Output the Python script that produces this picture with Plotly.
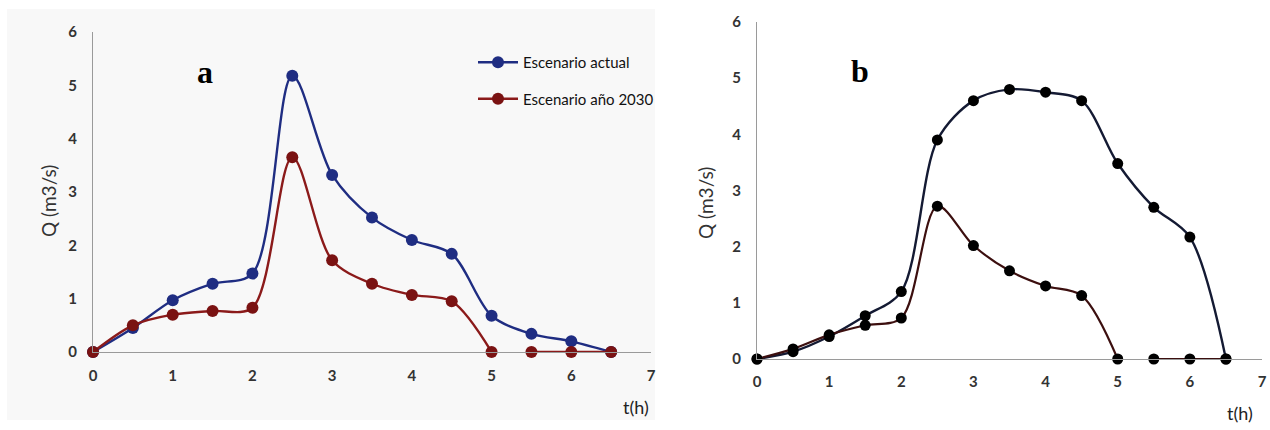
import plotly.graph_objects as go

# ---------------- data ----------------
t_hours = [0, 0.5, 1, 1.5, 2, 2.5, 3, 3.5, 4, 4.5, 5, 5.5, 6, 6.5]

# panel a
a_actual = [0, 0.45, 0.97, 1.28, 1.47, 5.18, 3.32, 2.52, 2.10, 1.84, 0.68, 0.34, 0.20, 0]
a_2030 = [0, 0.50, 0.70, 0.77, 0.83, 3.65, 1.72, 1.28, 1.07, 0.95, 0, 0, 0, 0]

# panel b
b_actual = [0, 0.13, 0.40, 0.77, 1.20, 3.90, 4.60, 4.80, 4.75, 4.60, 3.48, 2.70, 2.17, 0]
b_2030 = [0, 0.18, 0.43, 0.60, 0.73, 2.72, 2.02, 1.57, 1.30, 1.13, 0, 0, 0, 0]

series_names = ["Escenario actual", "Escenario año 2030"]
x_ticks = [0, 1, 2, 3, 4, 5, 6, 7]
y_ticks = [0, 1, 2, 3, 4, 5, 6]


def with_gap(xs, ys, after_x):
    """insert a break in the line right after x == after_x (line interrupted in source)"""
    gx, gy = [], []
    for x, y in zip(xs, ys):
        gx.append(x)
        gy.append(y)
        if x == after_x:
            gx.append(x + 0.25)
            gy.append(None)
    return gx, gy


W, H = 1270, 430
FAM = "Lato, 'Open Sans', sans-serif"
TICKFONT = dict(family=FAM, size=15, color="#333333", weight="bold")
LABELFONT = dict(family=FAM, size=19, color="#333333")
SERIF = dict(family="Liberation Serif, Times New Roman, serif", size=32, color="#000")

fig = go.Figure()

# panel a traces
fig.add_trace(go.Scatter(
    x=t_hours, y=a_actual, mode="lines+markers", name=series_names[0],
    line=dict(color="#1f2d82", width=2.4, shape="spline", smoothing=0.9),
    marker=dict(color="#1f2d82", size=12),
    xaxis="x", yaxis="y", cliponaxis=False, legendgroup="g1"))
gx, gy = with_gap(t_hours, a_2030, 5)
fig.add_trace(go.Scatter(
    x=gx, y=gy, mode="lines+markers", name=series_names[1],
    line=dict(color="#8b1a1a", width=2.4, shape="spline", smoothing=0.9),
    marker=dict(color="#7a1212", size=12), connectgaps=False,
    xaxis="x", yaxis="y", cliponaxis=False, legendgroup="g2"))

# panel b traces
fig.add_trace(go.Scatter(
    x=t_hours, y=b_actual, mode="lines+markers", name=series_names[0],
    line=dict(color="#141a33", width=2.4, shape="spline", smoothing=0.9),
    marker=dict(color="#000000", size=11),
    xaxis="x2", yaxis="y2", cliponaxis=False, showlegend=False))
gx, gy = with_gap(t_hours, b_2030, 5)
fig.add_trace(go.Scatter(
    x=gx, y=gy, mode="lines+markers", name=series_names[1],
    line=dict(color="#3c0f0f", width=2.2, shape="spline", smoothing=0.9),
    marker=dict(color="#000000", size=11), connectgaps=False,
    xaxis="x2", yaxis="y2", cliponaxis=False, showlegend=False))

axis_common = dict(showgrid=False, zeroline=False, showline=True, linecolor="#9a9a9a",
                   linewidth=1.3, ticks="", tickfont=TICKFONT, fixedrange=True,
                   automargin=False)


def label(text, px, py, font, angle=0):
    return dict(text=text, x=px / W, y=(H - py) / H, xref="paper", yref="paper",
                xanchor="center", yanchor="middle", showarrow=False,
                textangle=angle, font=font)


fig.update_layout(
    width=W, height=H,
    margin=dict(l=0, r=0, t=0, b=0),
    paper_bgcolor="white", plot_bgcolor="rgba(0,0,0,0)",
    xaxis=dict(domain=[93 / W, 651 / W], range=[0, 7], tickvals=x_ticks,
               anchor="y", ticklabelstandoff=10, **axis_common),
    yaxis=dict(domain=[(H - 352) / H, (H - 32) / H], range=[0, 6], tickvals=y_ticks,
               anchor="x", ticklabelstandoff=12, **axis_common),
    xaxis2=dict(domain=[757 / W, 1262 / W], range=[0, 7], tickvals=x_ticks,
                anchor="y2", ticklabelstandoff=9, **axis_common),
    yaxis2=dict(domain=[(H - 359) / H, (H - 22) / H], range=[0, 6], tickvals=y_ticks,
                anchor="x2", ticklabelstandoff=12, **axis_common),
    legend=dict(x=473 / W, y=(H - 46) / H, xanchor="left", yanchor="top",
                bgcolor="rgba(0,0,0,0)", font=dict(family=FAM, size=15, color="#111111"),
                tracegroupgap=14, itemwidth=40),
    shapes=[dict(type="rect", xref="paper", yref="paper", x0=7 / W, x1=655 / W,
                 y0=(H - 420) / H, y1=(H - 9) / H, fillcolor="#f8f8f8",
                 line=dict(width=0), layer="below")],
    annotations=[
        label("<b>a</b>", 205, 72, SERIF),
        label("<b>b</b>", 860, 71, SERIF),
        label("Q (m3/s)", 48, 201, LABELFONT, -90),
        label("Q (m3/s)", 705, 203, LABELFONT, -90),
        label("t(h)", 636, 407, dict(family=FAM, size=18, color="#222222")),
        label("t(h)", 1240, 413, dict(family=FAM, size=18, color="#222222")),
    ],
)

fig.write_html("out.html")
